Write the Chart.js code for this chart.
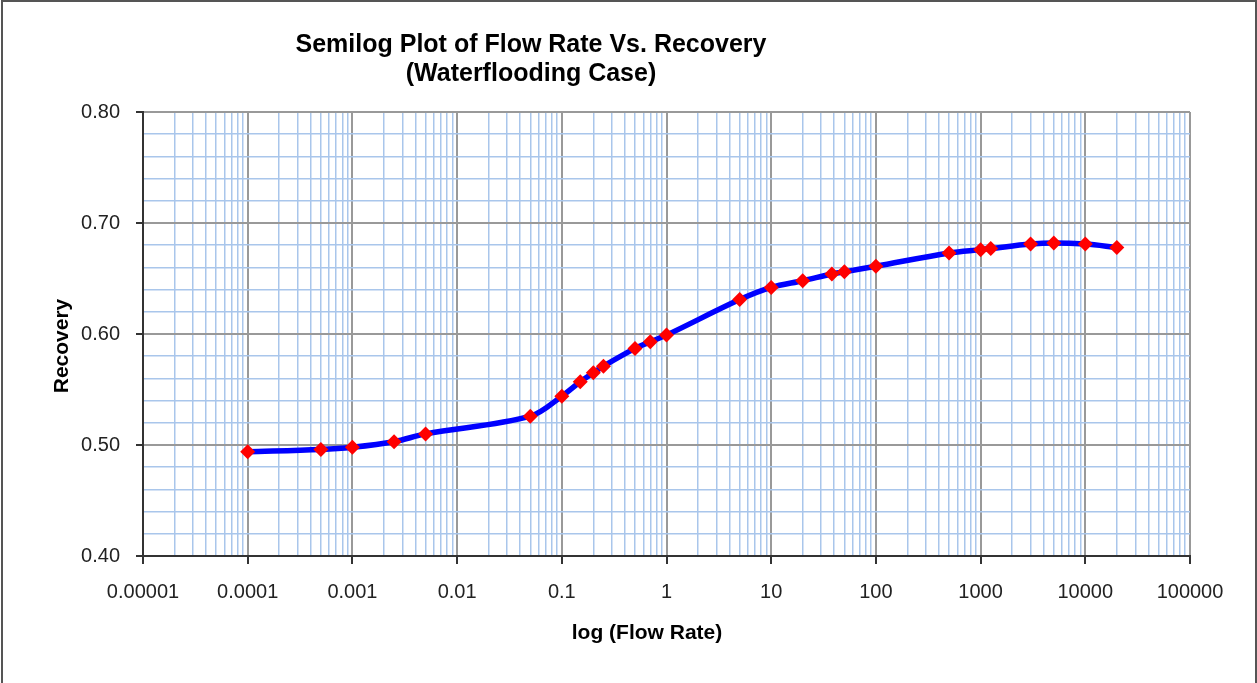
<!DOCTYPE html>
<html>
<head>
<meta charset="utf-8">
<script src="https://cdn.jsdelivr.net/npm/chart.js@4.4.1/dist/chart.umd.min.js"></script>
<style>
  html, body { margin: 0; padding: 0; background: #ffffff; }
  #wrap { width: 1257px; height: 683px; position: relative; }
  canvas { display: block; }
</style>
</head>
<body>
<div id="wrap"><canvas id="c" width="1257" height="683"></canvas></div>
<script>
// Measured flow rates and the matching recovery factors
const flowRate = [0.0001, 0.0005, 0.001, 0.0025, 0.005, 0.05, 0.1, 0.15, 0.2, 0.25, 0.5, 0.7, 1,
                  5, 10, 20, 38, 50, 100, 500, 1000, 1250, 3000, 5000, 10000, 20000];
const recovery = [0.494, 0.496, 0.498, 0.503, 0.510, 0.526, 0.544, 0.557, 0.565, 0.571, 0.587, 0.593, 0.599,
                  0.631, 0.642, 0.648, 0.654, 0.656, 0.661, 0.673, 0.676, 0.677, 0.681, 0.682, 0.681, 0.678];

// Axis tick labels (decades on x, major steps on y)
const xTickLabels = ['0.00001', '0.0001', '0.001', '0.01', '0.1', '1', '10', '100', '1000', '10000', '100000'];
const yTickLabels = ['0.40', '0.50', '0.60', '0.70', '0.80'];
const xMinorMultipliers = [2, 3, 4, 5, 6, 7, 8, 9];
const yMinorStep = 0.02;

const titleLines = ['Semilog Plot of Flow Rate Vs. Recovery', '(Waterflooding Case)'];
const xTitle = 'log (Flow Rate)';
const yTitle = 'Recovery';

const FONT = '"Liberation Sans", Arial, Helvetica, sans-serif';
const MAJOR_GRID = '#999999';
const MINOR_GRID = '#a9c6eb';
const AXIS_LINE = '#333333';

const yMajorValues = yTickLabels.map(Number);
const isYMajor = v => yMajorValues.some(m => Math.abs(m - v) < 1e-9);

// Title, axis captions and the outer frame
const captions = {
  id: 'captions',
  afterDraw(chart) {
    const ctx = chart.ctx;
    ctx.save();
    ctx.fillStyle = '#000000';
    ctx.textAlign = 'center';
    ctx.textBaseline = 'alphabetic';
    ctx.font = 'bold 25px ' + FONT;
    ctx.fillText(titleLines[0], 531, 52);
    ctx.fillText(titleLines[1], 531, 81);
    ctx.font = 'bold 21px ' + FONT;
    ctx.fillText(xTitle, 647, 639);
    ctx.translate(68, 346);
    ctx.rotate(-Math.PI / 2);
    ctx.fillText(yTitle, 0, 0);
    ctx.restore();

    ctx.save();
    ctx.strokeStyle = '#555555';
    ctx.lineWidth = 2;
    ctx.strokeRect(2, 1, 1254, 700);
    ctx.restore();
  }
};

new Chart(document.getElementById('c'), {
  type: 'line',
  data: {
    datasets: [{
      data: flowRate.map((x, i) => ({ x: x, y: recovery[i] })),
      borderColor: '#0000ff',
      borderWidth: 5.5,
      tension: 0.35,
      fill: false,
      pointStyle: 'rectRot',
      pointRadius: 7.5,
      pointHoverRadius: 7.5,
      pointBackgroundColor: '#ff0000',
      pointBorderColor: '#ff0000',
      pointBorderWidth: 0
    }]
  },
  options: {
    responsive: false,
    animation: false,
    devicePixelRatio: 1,
    layout: { padding: { top: 112, right: 67, left: 0, bottom: 0 } },
    plugins: {
      legend: { display: false },
      title: { display: false },
      tooltip: { enabled: false }
    },
    scales: {
      x: {
        type: 'logarithmic',
        min: Number(xTickLabels[0]),
        max: Number(xTickLabels[xTickLabels.length - 1]),
        afterBuildTicks(scale) {
          const ticks = [];
          xTickLabels.forEach((lbl, i) => {
            const decade = Number(lbl);
            ticks.push({ value: decade, major: true });
            if (i < xTickLabels.length - 1) {
              xMinorMultipliers.forEach(m => ticks.push({ value: m * decade, major: false }));
            }
          });
          scale.ticks = ticks;
        },
        afterFit(scale) { scale.height = 127; },
        ticks: {
          autoSkip: false,
          maxRotation: 0,
          padding: 16,
          color: '#222222',
          font: { family: FONT, size: 20 },
          callback(value, index, ticks) {
            if (!ticks[index].major) return '';
            const k = Math.round(Math.log10(value)) - Math.round(Math.log10(Number(xTickLabels[0])));
            return xTickLabels[k];
          }
        },
        grid: {
          color: c => (c.tick && c.tick.major ? MAJOR_GRID : MINOR_GRID),
          lineWidth: c => (c.tick && c.tick.major ? 2 : 1.5),
          tickColor: c => (c.tick && c.tick.major ? AXIS_LINE : 'rgba(0,0,0,0)'),
          tickLength: 8,
          tickWidth: 2
        },
        border: { display: true, color: AXIS_LINE, width: 2 }
      },
      y: {
        type: 'linear',
        min: yMajorValues[0],
        max: yMajorValues[yMajorValues.length - 1],
        afterFit(scale) { scale.width = 143; },
        ticks: {
          stepSize: yMinorStep,
          maxTicksLimit: 50,
          autoSkip: false,
          padding: 16,
          color: '#222222',
          font: { family: FONT, size: 20 },
          callback(value) {
            const k = yMajorValues.findIndex(m => Math.abs(m - value) < 1e-9);
            return k >= 0 ? yTickLabels[k] : '';
          }
        },
        grid: {
          color: c => (c.tick && isYMajor(c.tick.value) ? MAJOR_GRID : MINOR_GRID),
          lineWidth: c => (c.tick && isYMajor(c.tick.value) ? 2 : 1.5),
          tickColor: c => (c.tick && isYMajor(c.tick.value) ? AXIS_LINE : 'rgba(0,0,0,0)'),
          tickLength: 7,
          tickWidth: 2
        },
        border: { display: true, color: AXIS_LINE, width: 2 }
      }
    }
  },
  plugins: [captions]
});
</script>
</body>
</html>
